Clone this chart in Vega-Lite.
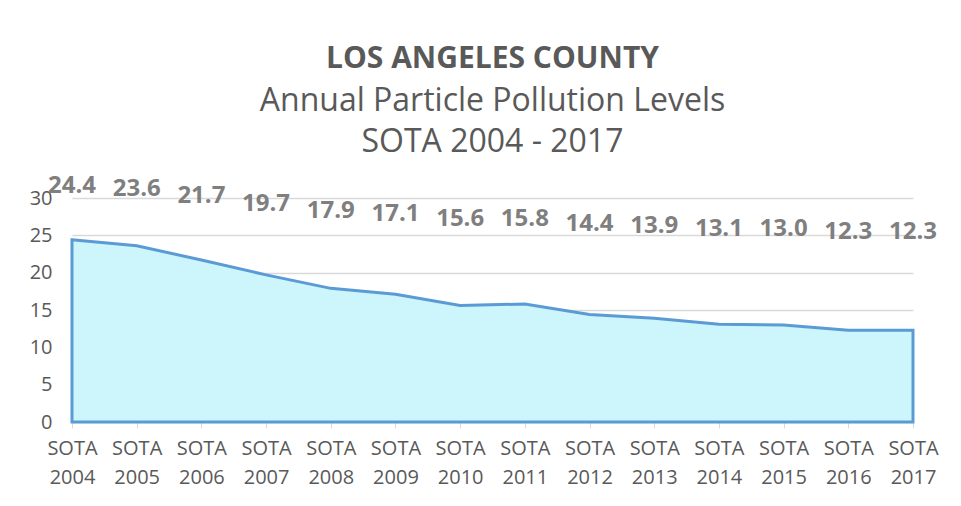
{
  "$schema": "https://vega.github.io/schema/vega-lite/v6.json",
  "width": 841,
  "height": 224,
  "autosize": {"type": "none"},
  "padding": {"left": 72, "top": 198, "right": 48, "bottom": 84},
  "background": "white",
  "config": {
    "view": {"stroke": null},
    "font": "Open Sans"
  },
  "title": {
    "text": "LOS ANGELES COUNTY",
    "subtitle": ["Annual Particle Pollution Levels", "SOTA 2004 - 2017"],
    "font": "Open Sans",
    "fontSize": 30,
    "fontWeight": "bold",
    "color": "#595959",
    "subtitleFont": "Open Sans",
    "subtitleFontSize": 32,
    "subtitleColor": "#595959",
    "subtitleLineHeight": 41,
    "subtitlePadding": 12,
    "anchor": "middle",
    "offset": 16
  },
  "data": {
    "values": [
      {"year": 2004, "value": 24.4},
      {"year": 2005, "value": 23.6},
      {"year": 2006, "value": 21.7},
      {"year": 2007, "value": 19.7},
      {"year": 2008, "value": 17.9},
      {"year": 2009, "value": 17.1},
      {"year": 2010, "value": 15.6},
      {"year": 2011, "value": 15.8},
      {"year": 2012, "value": 14.4},
      {"year": 2013, "value": 13.9},
      {"year": 2014, "value": 13.1},
      {"year": 2015, "value": 13.0},
      {"year": 2016, "value": 12.3},
      {"year": 2017, "value": 12.3}
    ]
  },
  "encoding": {
    "x": {
      "field": "year",
      "type": "quantitative",
      "scale": {"domain": [2004, 2017], "nice": false, "zero": false},
      "axis": {
        "title": null,
        "values": [2004, 2005, 2006, 2007, 2008, 2009, 2010, 2011, 2012, 2013, 2014, 2015, 2016, 2017],
        "format": "d",
        "labelExpr": "['SOTA', datum.label]",
        "labelFontSize": 20,
        "labelColor": "#595959",
        "labelLineHeight": 29,
        "labelPadding": 10,
        "labelFlush": false,
        "labelOverlap": false,
        "grid": false,
        "domainColor": "#D9D9D9",
        "tickColor": "#D9D9D9",
        "tickSize": 6
      }
    }
  },
  "layer": [
    {
      "mark": {"type": "area", "fill": "#CCF5FC", "stroke": "#5B9BD5", "strokeWidth": 3, "fillOpacity": 1},
      "encoding": {
        "y": {
          "field": "value",
          "type": "quantitative",
          "scale": {"domain": [0, 30], "nice": false},
          "axis": {
            "title": null,
            "values": [0, 5, 10, 15, 20, 25, 30],
            "labelFontSize": 20,
            "labelColor": "#595959",
            "labelPadding": 20,
            "ticks": false,
            "domain": false,
            "grid": true,
            "gridColor": "#D9D9D9",
            "gridWidth": 1.5
          }
        }
      }
    },
    {
      "mark": {"type": "text", "fontSize": 24, "fontWeight": "bold", "color": "#7F7F7F", "baseline": "middle", "align": "center"},
      "encoding": {
        "y": {
          "field": "value",
          "type": "quantitative",
          "scale": {"domain": [-37.7, 21.25], "nice": false, "zero": false},
          "axis": null
        },
        "text": {"field": "value", "type": "quantitative", "format": ".1f"}
      }
    }
  ],
  "resolve": {"scale": {"y": "independent"}}
}
